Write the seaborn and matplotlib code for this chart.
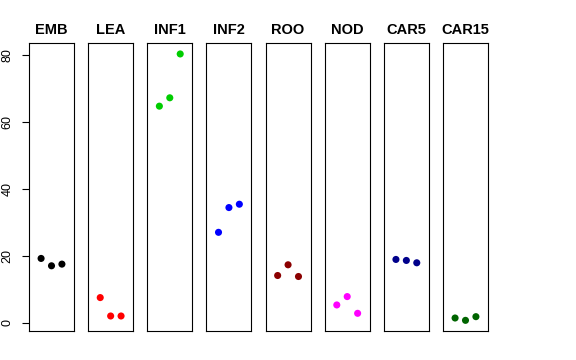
import matplotlib
matplotlib.use("Agg")
import matplotlib.pyplot as plt
import seaborn as sns
import pandas as pd

tissues = ["EMB", "LEA", "INF1", "INF2", "ROO", "NOD", "CAR5", "CAR15"]
replicates = [1, 2, 3]
values = {
    "EMB":   [19.2, 17.0, 17.5],
    "LEA":   [7.5, 2.0, 2.0],
    "INF1":  [64.7, 67.2, 80.3],
    "INF2":  [27.0, 34.4, 35.4],
    "ROO":   [14.1, 17.3, 13.8],
    "NOD":   [5.3, 7.8, 2.8],
    "CAR5":  [18.9, 18.6, 17.9],
    "CAR15": [1.4, 0.7, 1.8],
}
colors = ["#000000", "#FF0000", "#00CD00", "#0000FF",
          "#8B0000", "#FF00FF", "#00008B", "#006400"]
yticks = [0, 20, 40, 60, 80]

rows = []
for t in tissues:
    for r, v in zip(replicates, values[t]):
        rows.append({"tissue": t, "rep": r, "value": v})
df = pd.DataFrame(rows)

sns.set_theme(style="white")
plt.rcParams["font.family"] = ["Liberation Sans", "DejaVu Sans"]
plt.rcParams["text.color"] = "black"
plt.rcParams["axes.labelcolor"] = "black"
plt.rcParams["xtick.color"] = "black"
plt.rcParams["ytick.color"] = "black"

fig, axes = plt.subplots(1, len(tissues), figsize=(5.76, 3.6), dpi=100, sharey=True)
fig.subplots_adjust(left=29/576, right=488/576, top=1-43.3/360, bottom=1-331/360, wspace=0.314)

allv = df["value"]
lo, hi = allv.min(), allv.max()
ext = (hi - lo) * 0.04

for ax, t, c in zip(axes, tissues, colors):
    sub = df[df["tissue"] == t]
    sns.scatterplot(data=sub, x="rep", y="value", ax=ax, color=c, s=26,
                    edgecolor="none", legend=False)
    ax.set_xlim(-0.16, 4.16)
    ax.set_ylim(lo - ext, hi + ext)
    ax.set_xticks([])
    ax.set_xlabel("")
    ax.set_ylabel("")
    ax.set_title(t, fontsize=10.5, fontweight="bold", pad=7, color="black")
    for s in ax.spines.values():
        s.set_visible(True)
        s.set_color("black")
        s.set_linewidth(0.8)
    ax.tick_params(axis="y", left=False, labelleft=False)

ax0 = axes[0]
ax0.set_yticks(yticks)
ax0.tick_params(axis="y", left=True, labelleft=True, length=5, width=0.8,
                color="black", labelcolor="black", labelsize=9, pad=6)
for lab in ax0.get_yticklabels():
    lab.set_rotation(90)
    lab.set_va("center")

fig.savefig("out.png", dpi=100, facecolor="white")
